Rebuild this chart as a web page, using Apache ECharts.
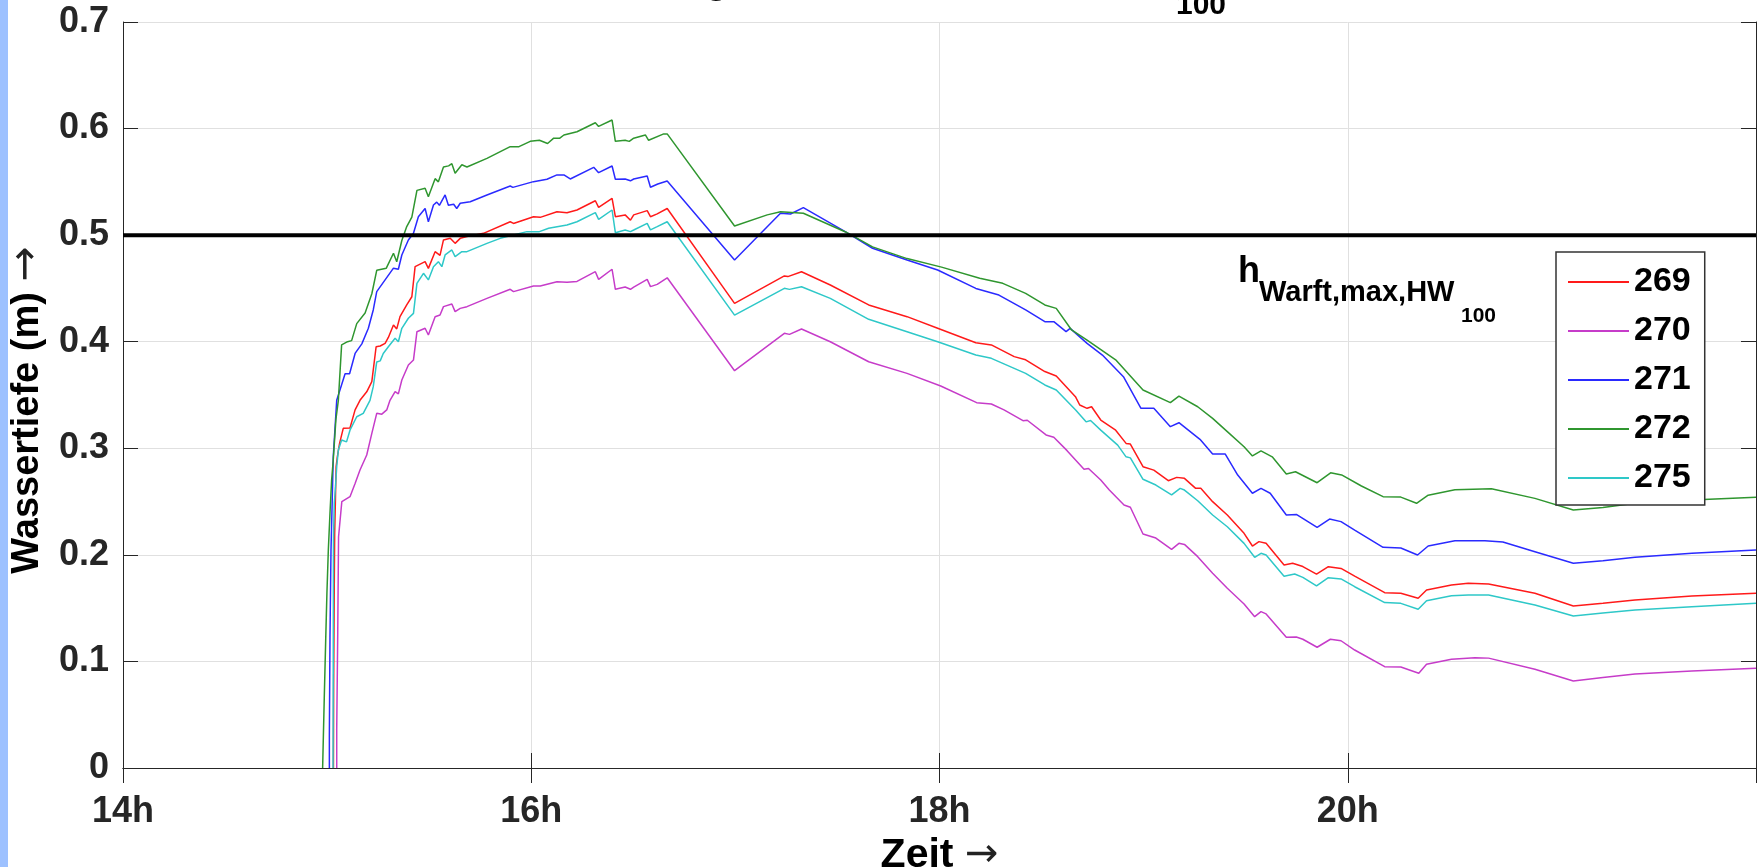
<!DOCTYPE html>
<html><head><meta charset="utf-8">
<script src="https://cdn.jsdelivr.net/npm/echarts@6/dist/echarts.min.js"></script>
<style>html,body{margin:0;padding:0;background:#fff}#c{width:1758px;height:867px}</style>
</head><body><div id="c"></div>
<script>
// ---- data (time in hours, water depth in m) ----
const seriesNames = ['269', '270', '271', '272', '275'];
const seriesColors = ['#ff1a1a', '#c63cc9', '#2a2aff', '#2f962f', '#2ec8c8'];

const s269 = [[15.031,0],[15.032,0.08],[15.035,0.17],[15.037,0.22],[15.041,0.2546],[15.044,0.2827],[15.05,0.292],[15.061,0.3046],[15.079,0.3187],[15.112,0.319],[15.137,0.336],[15.161,0.345],[15.194,0.353],[15.219,0.3625],[15.24,0.3953],[15.26,0.396],[15.284,0.3985],[15.3,0.404],[15.325,0.4157],[15.341,0.412],[15.357,0.4235],[15.39,0.4345],[15.415,0.4422],[15.431,0.4704],[15.48,0.4751],[15.496,0.4688],[15.529,0.4845],[15.537,0.486],[15.553,0.481],[15.57,0.4955],[15.603,0.497],[15.627,0.4923],[15.652,0.497],[15.685,0.4986],[15.766,0.5017],[15.897,0.5126],[15.913,0.511],[16.011,0.5173],[16.044,0.5167],[16.126,0.522],[16.175,0.521],[16.224,0.5236],[16.314,0.5323],[16.33,0.5261],[16.396,0.5345],[16.412,0.5173],[16.46,0.519],[16.486,0.514],[16.502,0.519],[16.568,0.523],[16.584,0.5173],[16.617,0.52],[16.666,0.525],[16.996,0.436],[17.24,0.4617],[17.257,0.4611],[17.324,0.4657],[17.465,0.4532],[17.653,0.4345],[17.841,0.4235],[17.991,0.4126],[18.178,0.399],[18.254,0.397],[18.366,0.386],[18.422,0.383],[18.516,0.372],[18.572,0.3678],[18.666,0.3484],[18.687,0.3406],[18.723,0.3375],[18.745,0.339],[18.79,0.3265],[18.863,0.317],[18.914,0.3046],[18.935,0.304],[18.997,0.2827],[19.05,0.2795],[19.121,0.2696],[19.162,0.2727],[19.2,0.2718],[19.255,0.2624],[19.28,0.2624],[19.338,0.2499],[19.41,0.2374],[19.492,0.2202],[19.533,0.2083],[19.565,0.2124],[19.6,0.2108],[19.688,0.1905],[19.73,0.1921],[19.78,0.189],[19.847,0.182],[19.905,0.1889],[19.967,0.1873],[20.034,0.18],[20.181,0.1645],[20.26,0.1639],[20.345,0.1592],[20.386,0.167],[20.508,0.1717],[20.59,0.1733],[20.69,0.1727],[20.917,0.1639],[21.105,0.152],[21.25,0.1545],[21.407,0.1576],[21.686,0.1614],[22.0,0.1639]];

const s270 = [[15.047,0],[15.047,0.0357],[15.052,0.1264],[15.056,0.217],[15.072,0.2499],[15.112,0.2546],[15.137,0.267],[15.161,0.2796],[15.194,0.2937],[15.219,0.314],[15.243,0.3328],[15.268,0.332],[15.292,0.336],[15.308,0.345],[15.333,0.3531],[15.349,0.351],[15.366,0.3641],[15.398,0.3781],[15.423,0.3828],[15.44,0.4094],[15.48,0.4126],[15.496,0.4063],[15.529,0.4235],[15.553,0.425],[15.57,0.4329],[15.611,0.4354],[15.627,0.4282],[15.652,0.4313],[15.685,0.4329],[15.783,0.4407],[15.897,0.4492],[15.913,0.447],[16.011,0.4523],[16.044,0.4523],[16.126,0.4563],[16.175,0.4557],[16.224,0.4566],[16.314,0.4657],[16.33,0.4585],[16.396,0.468],[16.412,0.4492],[16.46,0.4513],[16.486,0.4492],[16.502,0.4513],[16.568,0.4585],[16.584,0.4517],[16.617,0.4538],[16.666,0.46],[16.996,0.3728],[17.24,0.4079],[17.265,0.4069],[17.324,0.4119],[17.465,0.4],[17.653,0.3812],[17.841,0.3703],[18.006,0.3584],[18.182,0.3428],[18.254,0.3416],[18.316,0.336],[18.409,0.3259],[18.43,0.3263],[18.522,0.3125],[18.56,0.3104],[18.625,0.2978],[18.708,0.2803],[18.73,0.281],[18.79,0.2702],[18.832,0.2609],[18.904,0.2468],[18.935,0.2447],[18.997,0.2196],[19.06,0.2158],[19.137,0.2052],[19.173,0.2108],[19.2,0.2098],[19.265,0.1983],[19.338,0.1827],[19.41,0.1686],[19.492,0.1539],[19.544,0.142],[19.575,0.1467],[19.6,0.1446],[19.699,0.1226],[19.748,0.1229],[19.78,0.1208],[19.85,0.1133],[19.915,0.1208],[19.967,0.1194],[20.034,0.1107],[20.181,0.0951],[20.26,0.0947],[20.348,0.0889],[20.386,0.0973],[20.508,0.102],[20.623,0.1035],[20.69,0.1031],[20.917,0.0926],[21.105,0.0816],[21.25,0.085],[21.407,0.0882],[21.686,0.091],[22.0,0.0935]];

const s271 = [[15.011,0],[15.011,0.029],[15.014,0.123],[15.019,0.2046],[15.025,0.2515],[15.03,0.292],[15.047,0.345],[15.088,0.37],[15.11,0.37],[15.137,0.389],[15.17,0.398],[15.202,0.4126],[15.226,0.4298],[15.243,0.447],[15.284,0.458],[15.325,0.469],[15.349,0.468],[15.366,0.4814],[15.398,0.4955],[15.423,0.5017],[15.447,0.5173],[15.48,0.525],[15.496,0.5126],[15.521,0.5283],[15.537,0.531],[15.55,0.528],[15.578,0.5377],[15.594,0.528],[15.62,0.529],[15.635,0.525],[15.652,0.5299],[15.701,0.5314],[15.783,0.5377],[15.897,0.5461],[15.91,0.5448],[16.011,0.5502],[16.077,0.5524],[16.126,0.5565],[16.16,0.5565],[16.191,0.5527],[16.306,0.5636],[16.33,0.5586],[16.396,0.5649],[16.412,0.5524],[16.46,0.5527],[16.486,0.551],[16.502,0.5527],[16.568,0.5555],[16.584,0.5449],[16.62,0.548],[16.666,0.5508],[16.996,0.4767],[17.221,0.5205],[17.27,0.5198],[17.333,0.5258],[17.54,0.503],[17.672,0.4877],[17.841,0.4767],[17.991,0.4673],[18.178,0.45],[18.291,0.4438],[18.422,0.4298],[18.516,0.4188],[18.56,0.4188],[18.62,0.4094],[18.64,0.4125],[18.723,0.3985],[18.798,0.3875],[18.901,0.3672],[18.987,0.3375],[19.05,0.3375],[19.131,0.3203],[19.173,0.324],[19.276,0.3084],[19.338,0.2946],[19.4,0.2946],[19.461,0.2749],[19.533,0.2578],[19.575,0.2624],[19.62,0.2578],[19.699,0.2374],[19.75,0.2378],[19.85,0.2258],[19.911,0.2336],[19.967,0.2312],[20.034,0.2233],[20.173,0.2071],[20.26,0.2064],[20.342,0.1999],[20.394,0.2083],[20.525,0.2133],[20.672,0.2133],[20.76,0.212],[20.917,0.203],[21.105,0.1921],[21.25,0.1945],[21.407,0.1977],[21.686,0.2015],[22.0,0.2046]];

const s272 = [[14.978,0],[14.986,0.066],[14.993,0.12],[14.999,0.164],[15.006,0.205],[15.014,0.239],[15.022,0.27],[15.03,0.289],[15.043,0.327],[15.055,0.345],[15.071,0.397],[15.1,0.4],[15.12,0.401],[15.145,0.417],[15.186,0.427],[15.219,0.445],[15.243,0.467],[15.29,0.469],[15.325,0.483],[15.341,0.475],[15.366,0.495],[15.39,0.508],[15.415,0.517],[15.44,0.542],[15.48,0.544],[15.496,0.536],[15.529,0.553],[15.545,0.55],[15.57,0.564],[15.595,0.565],[15.611,0.567],[15.627,0.558],[15.66,0.566],[15.685,0.564],[15.783,0.572],[15.897,0.583],[15.94,0.583],[15.995,0.588],[16.04,0.589],[16.08,0.586],[16.11,0.591],[16.14,0.591],[16.16,0.594],[16.224,0.597],[16.314,0.6055],[16.33,0.602],[16.396,0.608],[16.412,0.588],[16.46,0.589],[16.48,0.588],[16.502,0.591],[16.559,0.594],[16.575,0.589],[16.649,0.595],[16.666,0.595],[16.996,0.5086],[17.156,0.519],[17.221,0.522],[17.333,0.5205],[17.54,0.503],[17.672,0.489],[17.841,0.478],[18.01,0.47],[18.197,0.4595],[18.31,0.4548],[18.422,0.4454],[18.516,0.4345],[18.572,0.4313],[18.647,0.411],[18.723,0.4016],[18.863,0.383],[18.997,0.3547],[19.131,0.3428],[19.173,0.349],[19.265,0.339],[19.338,0.3281],[19.41,0.3156],[19.492,0.3015],[19.533,0.2928],[19.575,0.2975],[19.63,0.292],[19.699,0.2759],[19.744,0.278],[19.85,0.2677],[19.916,0.277],[19.97,0.275],[20.067,0.2646],[20.173,0.2546],[20.26,0.2542],[20.337,0.2484],[20.394,0.256],[20.525,0.261],[20.704,0.262],[20.917,0.253],[21.105,0.2421],[21.25,0.2445],[21.407,0.2484],[21.686,0.2515],[22.0,0.254]];

const s275 = [[15.029,0],[15.03,0.1],[15.031,0.214],[15.035,0.2483],[15.041,0.264],[15.047,0.2827],[15.055,0.2984],[15.071,0.3078],[15.095,0.306],[15.112,0.317],[15.145,0.3296],[15.177,0.3328],[15.21,0.345],[15.226,0.3578],[15.243,0.381],[15.26,0.382],[15.275,0.389],[15.3,0.3953],[15.333,0.4032],[15.349,0.4],[15.366,0.4126],[15.398,0.422],[15.423,0.4266],[15.44,0.4548],[15.472,0.4642],[15.496,0.458],[15.521,0.4704],[15.545,0.4751],[15.562,0.4704],[15.578,0.4814],[15.611,0.4861],[15.627,0.4798],[15.66,0.4845],[15.685,0.4845],[15.783,0.4923],[15.848,0.497],[15.979,0.5033],[16.04,0.5033],[16.085,0.5064],[16.175,0.5095],[16.224,0.5126],[16.314,0.5211],[16.33,0.5148],[16.396,0.5236],[16.412,0.5023],[16.46,0.5048],[16.486,0.5033],[16.502,0.5048],[16.568,0.5111],[16.584,0.505],[16.617,0.508],[16.666,0.5126],[16.996,0.425],[17.24,0.4501],[17.265,0.4491],[17.324,0.4516],[17.465,0.4407],[17.653,0.421],[17.841,0.4094],[17.991,0.4],[18.178,0.3875],[18.254,0.3844],[18.366,0.375],[18.422,0.3703],[18.516,0.3594],[18.572,0.3547],[18.667,0.336],[18.718,0.3248],[18.74,0.326],[18.79,0.317],[18.873,0.303],[18.914,0.292],[18.935,0.291],[18.997,0.2709],[19.06,0.2655],[19.137,0.2562],[19.179,0.2624],[19.2,0.2608],[19.265,0.2508],[19.338,0.2374],[19.41,0.2264],[19.492,0.2108],[19.544,0.1977],[19.575,0.2015],[19.6,0.1999],[19.688,0.18],[19.74,0.182],[19.78,0.1789],[19.847,0.1708],[19.905,0.1786],[19.967,0.1774],[20.034,0.1701],[20.181,0.1552],[20.26,0.1545],[20.345,0.1489],[20.386,0.157],[20.508,0.1617],[20.59,0.1623],[20.69,0.1623],[20.917,0.153],[21.105,0.1426],[21.25,0.1455],[21.407,0.1483],[21.686,0.1514],[22.0,0.1545]];

const seriesData = [s269, s270, s271, s272, s275];

const xMin = 14, xMax = 22, xStep = 2;
const xTickValues = [14, 16, 18, 20];
const xTickLabels = ['14h', '16h', '18h', '20h'];
const yTickLabels = ['0', '0.1', '0.2', '0.3', '0.4', '0.5', '0.6', '0.7'];
const hWarftMax = 0.5;
const hLine = [[14, hWarftMax], [22, hWarftMax]];

const FONT = 'Liberation Sans, Arial, Helvetica, sans-serif';
const AX = '#262626';

const chart = echarts.init(document.getElementById('c'), null, {renderer: 'canvas'});

const lineSeries = seriesNames.map((n, i) => ({
  name: n, type: 'line', data: seriesData[i], showSymbol: false, symbol: 'none',
  lineStyle: {width: 1.5, color: seriesColors[i]}, itemStyle: {color: seriesColors[i]},
  z: 3, animation: false
}));
lineSeries.push({
  name: 'hWarft', type: 'line', data: hLine, showSymbol: false, symbol: 'none',
  lineStyle: {width: 4, color: '#000'}, z: 5, silent: true, animation: false
});

const hiddenAxisCommon = {
  axisLine: {show: true, lineStyle: {color: AX, width: 1}},
  axisTick: {show: true, inside: true, length: 15, lineStyle: {color: AX, width: 1}},
  axisLabel: {show: false}, splitLine: {show: false}
};

chart.setOption({
  animation: false,
  backgroundColor: '#ffffff',
  grid: {left: 123, right: 2, top: 22, bottom: 99, containLabel: false, outerBoundsMode: 'none'},
  legend: {
    data: seriesNames, orient: 'vertical', left: 1556, top: 252,
    padding: [10, 14, 7, 12], itemGap: 9, itemWidth: 61, itemHeight: 2, icon: 'rect',
    backgroundColor: '#fff', borderColor: '#333', borderWidth: 1.5,
    textStyle: {fontSize: 34, fontWeight: 'bold', fontFamily: FONT, color: '#000', lineHeight: 40},
    selectedMode: false
  },
  xAxis: [{
    type: 'value', min: xMin, max: xMax, interval: xStep, position: 'bottom',
    name: '{t|Zeit} {a|\u2192}', nameLocation: 'middle', nameGap: 45,
    nameTextStyle: {
      fontSize: 41, fontWeight: 'bold', fontFamily: FONT, color: '#000',
      rich: {
        t: {fontSize: 41, fontWeight: 'bold', fontFamily: FONT, color: '#000'},
        a: {fontSize: 40, fontWeight: 'normal', fontFamily: 'DejaVu Sans', color: '#222'}
      }
    },
    axisLine: {show: true, lineStyle: {color: AX, width: 1}},
    axisTick: {show: true, inside: true, length: 15, lineStyle: {color: AX, width: 1}},
    axisLabel: {
      margin: 26, fontSize: 36, fontWeight: 'bold', fontFamily: FONT, color: AX,
      formatter: v => { const k = xTickValues.indexOf(Math.round(v * 1000) / 1000); return k >= 0 ? xTickLabels[k] : ''; }
    },
    splitLine: {show: true, lineStyle: {color: '#e0e0e0', width: 1}}
  }, Object.assign({type: 'value', min: xMin, max: xMax, interval: xStep, position: 'top'}, hiddenAxisCommon)],
  yAxis: [{
    type: 'value', min: 0, max: 0.7, interval: 0.1, position: 'left',
    name: '{t|Wassertiefe (m)} {a|\u2192}', nameLocation: 'middle', nameGap: 72, nameRotate: 90,
    nameTextStyle: {
      fontSize: 38, fontWeight: 'bold', fontFamily: FONT, color: '#000',
      rich: {
        t: {fontSize: 38, fontWeight: 'bold', fontFamily: FONT, color: '#000'},
        a: {fontSize: 42, fontWeight: 'normal', fontFamily: 'DejaVu Sans', color: '#222', padding: [0, 30, 0, 0]}
      }
    },
    axisLine: {show: true, lineStyle: {color: AX, width: 1}},
    axisTick: {show: true, inside: true, length: 15, lineStyle: {color: AX, width: 1}},
    axisLabel: {
      margin: 14, fontSize: 36, fontWeight: 'bold', fontFamily: FONT, color: AX,
      formatter: v => yTickLabels[Math.round(v * 10)] || ''
    },
    splitLine: {show: true, lineStyle: {color: '#e0e0e0', width: 1}}
  }, Object.assign({type: 'value', min: 0, max: 0.7, interval: 0.1, position: 'right'}, hiddenAxisCommon)],
  series: lineSeries,
  graphic: [
    {type: 'rect', left: 0, top: 0, shape: {x: 0, y: 0, width: 8, height: 867}, style: {fill: '#9dc1ff'}, z: 10},
    {type: 'text', x: 1176, y: -38, z: 10, style: {
      text: 'Wassertiefen Hallig Warft bei Sturmflut HW', fontSize: 40, fontWeight: 'bold', fontFamily: FONT,
      fill: '#000', align: 'right', verticalAlign: 'top', textAlign: 'right', textVerticalAlign: 'top'}},
    {type: 'text', x: 1176, y: -9, z: 10, style: {
      text: '100', fontSize: 30, fontWeight: 'bold', fontFamily: FONT,
      fill: '#000', align: 'left', verticalAlign: 'top', textAlign: 'left', textVerticalAlign: 'top'}},
    {type: 'text', x: 1238, y: 254, z: 10, style: {
      text: 'h', fontSize: 36, fontWeight: 'bold', fontFamily: FONT, fill: '#000',
      align: 'left', verticalAlign: 'top', textAlign: 'left', textVerticalAlign: 'top'}},
    {type: 'text', x: 1259, y: 278, z: 10, style: {
      text: 'Warft,max,HW', fontSize: 29, fontWeight: 'bold', fontFamily: FONT, fill: '#000',
      align: 'left', verticalAlign: 'top', textAlign: 'left', textVerticalAlign: 'top'}},
    {type: 'text', x: 1461, y: 306, z: 10, style: {
      text: '100', fontSize: 21, fontWeight: 'bold', fontFamily: FONT, fill: '#000',
      align: 'left', verticalAlign: 'top', textAlign: 'left', textVerticalAlign: 'top'}}
  ]
});
</script>
</body></html>
